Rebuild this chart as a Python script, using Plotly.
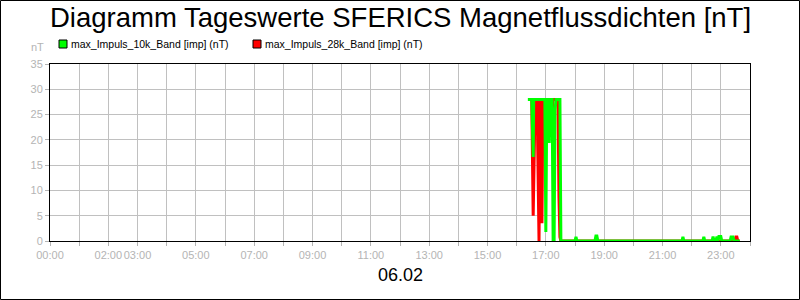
import plotly.graph_objects as go

# ---------------- data ----------------
series_names = ["max_Impuls_10k_Band [imp] (nT)", "max_Impuls_28k_Band [imp] (nT)"]
series_colors = ["#00ff00", "#ff0000"]

green_times = ["16:23", "16:31", "16:34", "16:35", "16:58", "17:00", "17:02", "17:04", "17:07", "17:09",
               "17:13", "17:15", "17:17", "17:19", "17:21", "17:29", "17:31", "17:33",
               "18:00", "18:02", "18:04", "18:41", "18:43", "18:45", "18:47",
               "21:40", "21:42", "21:44", "22:23", "22:25", "22:27", "22:42", "22:44", "22:46",
               "22:50", "22:52", "22:54", "22:56", "23:00", "23:02", "23:19", "23:21", "23:25", "23:27", "23:39"]
green_values = [28, 28, 16.6, 28, 28, 1.8, 28, 28, 19.4, 28,
                28, 0, 0, 26, 28, 28, 0, 0,
                0, 0.8, 0, 0, 1, 1, 0,
                0, 0.8, 0, 0, 0.8, 0, 0, 0.9, 0,
                0, 0.9, 0, 0.9, 0.9, 0, 0, 0.8, 0.8, 0, 0]

red_times = ["16:25", "16:31", "16:34", "16:38", "16:42", "16:46", "16:48", "16:50", "16:52",
             "16:54", "17:11", "17:13", "17:15", "17:25", "17:27", "17:29", "17:31",
             "18:43", "18:44", "18:45", "23:29", "23:31", "23:33", "23:35", "23:39"]
red_values = [28, 28, 5, 28, 28, 0, 28, 28, 3.5,
              28, 28, 23, 28, 28, 8.7, 0.8, 0,
              0, 0.5, 0, 0, 0.8, 0.8, 0, 0]

tick_hours = list(range(0, 25))
tick_labels = ["00:00", "", "02:00", "03:00", "", "05:00", "", "07:00", "", "09:00", "", "11:00", "",
               "13:00", "", "15:00", "", "17:00", "", "19:00", "", "21:00", "", "23:00", ""]
y_ticks = [0, 5, 10, 15, 20, 25, 30, 35]
date_label = "06.02"
title_text = "Diagramm Tageswerte SFERICS Magnetflussdichten [nT]"
y_unit = "nT"


def to_hours(ts):
    out = []
    for t in ts:
        h, m = t.split(":")
        out.append(int(h) + int(m) / 60.0)
    return out


FONT = "Liberation Sans, Arial, sans-serif"
GRAY = "#b4b4b4"

fig = go.Figure()
# red first, green on top
fig.add_trace(go.Scatter(x=to_hours(red_times), y=red_values, mode="lines",
                         line=dict(color=series_colors[1], width=3), name=series_names[1],
                         showlegend=False))
fig.add_trace(go.Scatter(x=to_hours(green_times), y=green_values, mode="lines",
                         line=dict(color=series_colors[0], width=3), name=series_names[0],
                         showlegend=False))

ML, MR, MT, MB = 50, 50, 64, 59
W, H = 800, 300
pw, ph = W - ML - MR, H - MT - MB

def px_x(px):
    return (px - ML) / pw

def px_y(py):
    return (H - MB - py) / ph

shapes = [dict(type="rect", xref="paper", yref="paper",
               x0=px_x(0.5), x1=px_x(W - 0.5), y0=px_y(H - 0.5), y1=px_y(0.5),
               line=dict(color="black", width=1), fillcolor="rgba(0,0,0,0)", layer="below")]
annotations = [
    dict(text=title_text, x=0.5, y=px_y(18), xref="paper", yref="paper", showarrow=False,
         font=dict(family=FONT, size=27.5, color="black"), xanchor="center", yanchor="middle"),
    dict(text=date_label, x=0.5, y=px_y(275), xref="paper", yref="paper", showarrow=False,
         font=dict(family=FONT, size=18, color="black"), xanchor="center", yanchor="middle"),
    dict(text=y_unit, x=px_x(46), y=px_y(47), xref="paper", yref="paper", showarrow=False,
         font=dict(family=FONT, size=11, color=GRAY), xanchor="right", yanchor="middle"),
]
legend_x = [59, 253]
for i, name in enumerate(series_names):
    x0 = legend_x[i]
    shapes.append(dict(type="rect", xref="paper", yref="paper",
                       x0=px_x(x0), x1=px_x(x0 + 8), y0=px_y(48), y1=px_y(40),
                       fillcolor=series_colors[i], line=dict(color="black", width=1)))
    annotations.append(dict(text=name, x=px_x(x0 + 10), y=px_y(44), xref="paper", yref="paper",
                            showarrow=False, xanchor="left", yanchor="middle",
                            font=dict(family=FONT, size=10.5, color="black")))

fig.update_layout(
    width=W, height=H, margin=dict(l=ML, r=MR, t=MT, b=MB),
    paper_bgcolor="white", plot_bgcolor="white",
    showlegend=False, shapes=shapes, annotations=annotations,
    font=dict(family=FONT),
)
fig.update_xaxes(range=[0, 24], tickmode="array", tickvals=tick_hours, ticktext=tick_labels,
                 tickangle=0,
                 showgrid=True, gridcolor="#c0c0c0", gridwidth=1,
                 showline=True, linecolor="black", linewidth=1, mirror=True,
                 ticks="outside", ticklen=4, tickcolor=GRAY,
                 tickfont=dict(family=FONT, size=11, color=GRAY), zeroline=False)
fig.update_yaxes(range=[0, 35], tickmode="array", tickvals=y_ticks,
                 showgrid=True, gridcolor="#c0c0c0", gridwidth=1,
                 showline=True, linecolor="black", linewidth=1, mirror=True,
                 ticks="outside", ticklen=4, tickcolor=GRAY,
                 tickfont=dict(family=FONT, size=11, color=GRAY), zeroline=False)

fig.write_html("out.html")
